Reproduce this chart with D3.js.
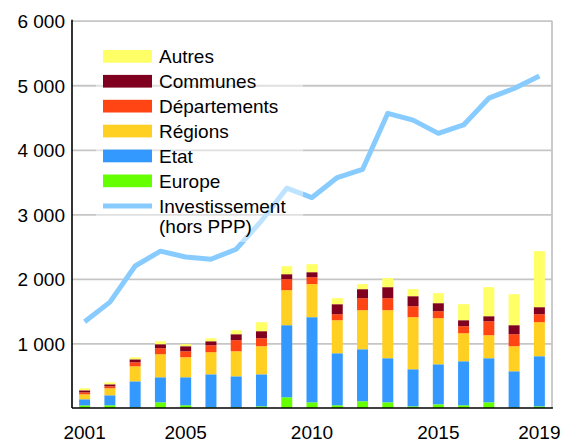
<!DOCTYPE html>
<html>
<head>
<meta charset="utf-8">
<script src="https://cdn.jsdelivr.net/npm/d3@7"></script>
<style>
  body { margin: 0; background: #fff; }
  text { font-family: "Liberation Sans", Arial, sans-serif; fill: #000; }
</style>
</head>
<body>
<div id="chart"></div>
<script>
var years = ["2001","2002","2003","2004","2005","2006","2007","2008","2009","2010",
             "2011","2012","2013","2014","2015","2016","2017","2018","2019"];
var yearLabels = ["2001","2005","2010","2015","2019"];
var yTicks = [1000, 2000, 3000, 4000, 5000, 6000];

// montants par financeur (lecture du graphique)
var europe       = [40, 42, 10, 88, 42, 11, 11, 26, 166, 88, 42, 104, 88, 26, 57, 42, 88, 10, 26];
var etat         = [95, 155, 403, 388, 434, 511, 480, 496, 1117, 1319, 806, 806, 683, 574, 620, 682, 683, 559, 776];
var regions      = [77, 108, 233, 357, 310, 342, 388, 435, 543, 512, 512, 605, 744, 807, 714, 434, 356, 388, 527];
var departements = [31, 31, 62, 93, 93, 108, 171, 124, 170, 108, 93, 186, 186, 170, 109, 109, 217, 186, 124];
var communes     = [31, 31, 46, 62, 78, 62, 93, 109, 77, 77, 155, 140, 171, 155, 124, 93, 78, 140, 109];
var autres       = [31, 31, 31, 46, 31, 47, 62, 139, 124, 124, 93, 78, 139, 109, 155, 248, 450, 480, 868];
var investissement = [1335, 1640, 2200, 2430, 2340, 2305, 2460, 2900, 3405, 3260, 3570, 3695, 4565, 4460, 4255, 4385, 4800, 4950, 5145];

var series = [
  { key: "europe", name: "Europe", color: "#66ff00", values: europe },
  { key: "etat", name: "Etat", color: "#3399ff", values: etat },
  { key: "regions", name: "Régions", color: "#ffd022", values: regions },
  { key: "departements", name: "Départements", color: "#ff4513", values: departements },
  { key: "communes", name: "Communes", color: "#800020", values: communes },
  { key: "autres", name: "Autres", color: "#ffff66", values: autres }
];
var lineColor = "#88ccff";

var width = 562, height = 442;
var pLeft = 72, pRight = 552, pTop = 20.7, pBottom = 408;

var table = years.map(function(y, i) {
  var row = { year: y };
  series.forEach(function(s) { row[s.key] = s.values[i]; });
  return row;
});

var svg = d3.select("#chart").append("svg")
  .attr("width", width).attr("height", height);

var x = d3.scaleBand().domain(years).range([pLeft, pRight])
  .paddingInner(0.565).paddingOuter(0.2825);
var y = d3.scaleLinear().domain([0, 6000]).range([pBottom, pTop]);

var fr = d3.formatLocale({ decimal: ",", thousands: " ", grouping: [3], currency: ["", " €"] });

// grille
var yAxis = d3.axisLeft(y).tickValues(yTicks).tickSize(-(pRight - pLeft)).tickPadding(7)
  .tickFormat(fr.format(",d"));
var gy = svg.append("g").attr("transform", "translate(" + pLeft + ",0)").call(yAxis);
gy.select(".domain").remove();
gy.selectAll(".tick line").attr("stroke", "#c6c6c6").attr("stroke-width", 1.8);
gy.selectAll(".tick text").style("font-size", "19px").attr("dy", "0.36em");
svg.append("line").attr("x1", pRight).attr("x2", pRight).attr("y1", pTop).attr("y2", pBottom)
  .attr("stroke", "#c6c6c6").attr("stroke-width", 1.8);

// barres empilées
var stack = d3.stack().keys(series.map(function(s) { return s.key; }));
var layers = stack(table);
svg.append("g").selectAll("g").data(layers).enter().append("g")
  .attr("fill", function(d, i) { return series[i].color; })
  .selectAll("rect").data(function(d) { return d; }).enter().append("rect")
  .attr("x", function(d) { return x(d.data.year); })
  .attr("width", x.bandwidth())
  .attr("y", function(d) { return y(d[1]); })
  .attr("height", function(d) { return y(d[0]) - y(d[1]); });

// ligne investissement
var line = d3.line()
  .x(function(d, i) { return x(years[i]) + x.bandwidth() / 2; })
  .y(function(d) { return y(d); });
svg.append("path").datum(investissement)
  .attr("d", line).attr("fill", "none")
  .attr("stroke", lineColor).attr("stroke-width", 5).attr("stroke-linejoin", "round");

// axes
svg.append("line").attr("x1", pLeft).attr("x2", pLeft).attr("y1", pTop - 0.9).attr("y2", pBottom)
  .attr("stroke", "#000").attr("stroke-width", 1.6);
svg.append("line").attr("x1", pLeft).attr("x2", pRight + 0.9).attr("y1", pBottom).attr("y2", pBottom)
  .attr("stroke", "#000").attr("stroke-width", 1.6);

var xAxis = d3.axisBottom(x).tickValues(yearLabels).tickSize(0).tickPadding(18);
var gx = svg.append("g").attr("transform", "translate(0," + pBottom + ")").call(xAxis);
gx.select(".domain").remove();
gx.selectAll(".tick text").style("font-size", "19px");

// légende
var legend = svg.append("g");
legend.append("rect").attr("x", 96).attr("y", 40).attr("width", 207).attr("height", 202)
  .attr("fill", "#fff").attr("opacity", 0.45);
var legendItems = series.slice().reverse();
legendItems.forEach(function(s, i) {
  var yy = 50 + i * 24.9;
  legend.append("rect").attr("x", 103).attr("y", yy).attr("width", 49).attr("height", 12.7)
    .attr("fill", s.color);
  legend.append("text").attr("x", 159).attr("y", yy + 13).style("font-size", "19px").text(s.name);
});
legend.append("line").attr("x1", 103).attr("x2", 152).attr("y1", 206).attr("y2", 206)
  .attr("stroke", lineColor).attr("stroke-width", 5);
legend.append("text").attr("x", 159).attr("y", 212.5).style("font-size", "19px").text("Investissement");
legend.append("text").attr("x", 159).attr("y", 233).style("font-size", "19px").text("(hors PPP)");
</script>
</body>
</html>
